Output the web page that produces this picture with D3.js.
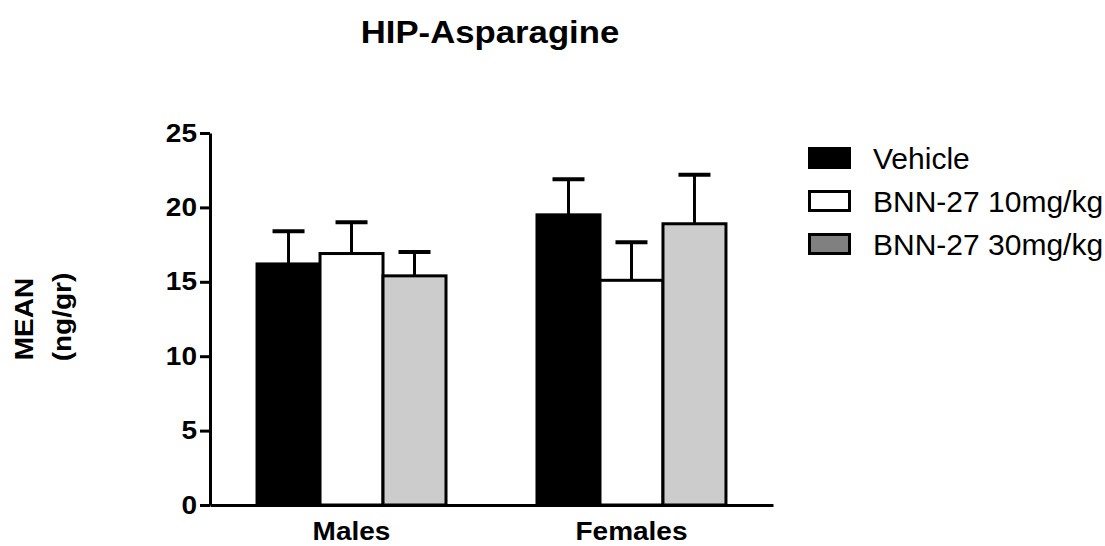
<!DOCTYPE html>
<html>
  <head>
    <meta charset="utf-8">
    <style>
body {
  margin: 0;
  background: #fff;
  font-family: 'Liberation Sans', Arial, sans-serif;
}
.axis .domain, .axis line {
  stroke: #000;
  stroke-width: 3px;
}
</style>
    <title>HIP-Asparagine</title>
  </head>
  <body>
    <svg width="1105" height="546"></svg>
    <script src="https://d3js.org/d3.v7.min.js"></script>
    <script>
// data
var groups = ["Males", "Females"];
var series = ["Vehicle", "BNN-27 10mg/kg", "BNN-27 30mg/kg"];
var means = [
  [16.2, 16.9, 15.4],   // Males
  [19.5, 15.1, 18.9]    // Females
];
var sems = [
  [2.2, 2.1, 1.6],
  [2.4, 2.55, 3.3]
];
var yTicks = [0, 5, 10, 15, 20, 25];

var svg = d3.select("svg"),
    sx = 1.12; // the bold labels in the original are a bit wider than plain Arial

// scales
var x0 = d3.scaleBand()
    .domain(groups)
    .range([210, 773])
    .paddingInner(0.325)
    .paddingOuter(0.168);

var x1 = d3.scaleBand()
    .domain(series)
    .range([0, x0.bandwidth()]);

var y = d3.scaleLinear()
    .domain([0, 25])
    .range([505, 133]);

var barFill = d3.scaleOrdinal().domain(series).range(["#000", "#fff", "#cccccc"]);
var legendFill = d3.scaleOrdinal().domain(series).range(["#000", "#fff", "#808080"]);

// title
svg.append("text")
    .attr("transform", "translate(490,43) scale(" + sx + ",1)")
    .attr("text-anchor", "middle")
    .attr("font-size", 31)
    .attr("font-weight", "bold")
    .text("HIP-Asparagine");

// y axis label, two lines
svg.append("text")
    .attr("transform", "translate(33,319) rotate(-90) scale(" + sx + ",1)")
    .attr("text-anchor", "middle")
    .attr("font-size", 25)
    .attr("font-weight", "bold")
    .text("MEAN");

svg.append("text")
    .attr("transform", "translate(71,317) rotate(-90) scale(" + sx + ",1)")
    .attr("text-anchor", "middle")
    .attr("font-size", 25)
    .attr("font-weight", "bold")
    .text("(ng/gr)");

// bars
var rows = [];
groups.forEach(function(g, gi) {
  series.forEach(function(s, si) {
    rows.push({group: g, key: s, mean: means[gi][si], sem: sems[gi][si]});
  });
});

var bar = svg.append("g")
  .selectAll("g")
  .data(rows)
  .enter().append("g")
    .attr("transform", function(d) { return "translate(" + (x0(d.group) + x1(d.key)) + ",0)"; });

bar.append("rect")
    .attr("x", 0)
    .attr("y", function(d) { return y(d.mean); })
    .attr("width", x1.bandwidth())
    .attr("height", function(d) { return y(0) - y(d.mean); })
    .attr("fill", function(d) { return barFill(d.key); })
    .attr("stroke", "#000")
    .attr("stroke-width", 3);

// upper error bars only
var cx = x1.bandwidth() / 2;
bar.append("line")
    .attr("x1", cx)
    .attr("x2", cx)
    .attr("y1", function(d) { return y(d.mean); })
    .attr("y2", function(d) { return y(d.mean + d.sem); })
    .attr("stroke", "#000")
    .attr("stroke-width", 3);

bar.append("line")
    .attr("x1", cx - 16)
    .attr("x2", cx + 16)
    .attr("y1", function(d) { return y(d.mean + d.sem); })
    .attr("y2", function(d) { return y(d.mean + d.sem); })
    .attr("stroke", "#000")
    .attr("stroke-width", 4);

// axes
var yAxis = svg.append("g")
    .attr("class", "axis")
    .attr("transform", "translate(210,0)")
    .call(d3.axisLeft(y).tickValues(yTicks).tickSize(10).tickSizeOuter(0).tickPadding(3));

yAxis.selectAll("text")
    .attr("x", -13 / sx)
    .attr("transform", "scale(" + sx + ",1)")
    .attr("font-family", "'Liberation Sans', Arial, sans-serif")
    .attr("font-size", 25)
    .attr("font-weight", "bold")
    .attr("fill", "#000");

var xAxis = svg.append("g")
    .attr("class", "axis")
    .attr("transform", "translate(0,505)")
    .call(d3.axisBottom(x0).tickSize(0).tickSizeOuter(0).tickPadding(17));

xAxis.selectAll("text")
    .attr("transform", "scale(" + sx + ",1)")
    .attr("font-family", "'Liberation Sans', Arial, sans-serif")
    .attr("font-size", 25)
    .attr("font-weight", "bold")
    .attr("fill", "#000");

// legend
var legend = svg.append("g")
  .selectAll("g")
  .data(series)
  .enter().append("g")
    .attr("transform", function(d, i) { return "translate(808," + (147 + i * 43) + ")"; });

legend.append("rect")
    .attr("x", 1.5)
    .attr("y", 1.5)
    .attr("width", 40)
    .attr("height", 19)
    .attr("fill", legendFill)
    .attr("stroke", "#000")
    .attr("stroke-width", 3);

legend.append("text")
    .attr("x", 65)
    .attr("y", 22)
    .attr("font-size", 30)
    .attr("fill", "#000")
    .text(function(d) { return d; });
</script>
  </body>
</html>
